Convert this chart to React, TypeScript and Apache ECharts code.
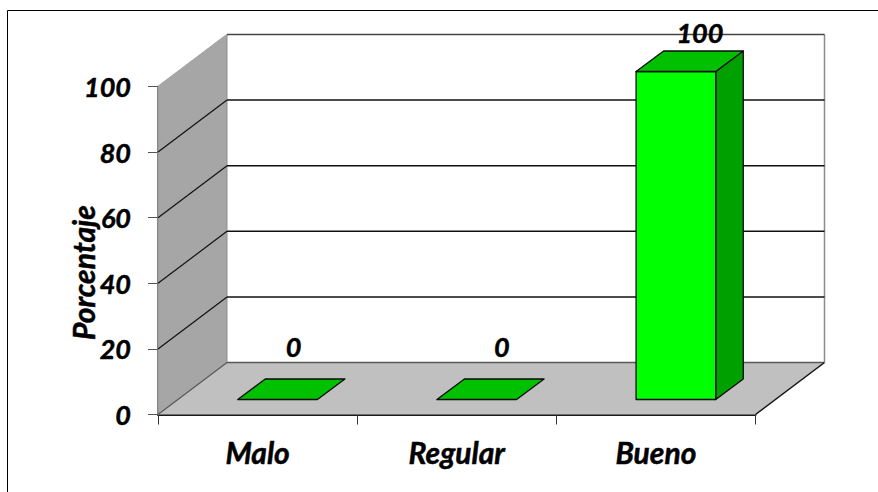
import React, { useEffect, useRef } from "react";
import * as echarts from "echarts";

const categories = ["Malo", "Regular", "Bueno"];
const values = [0, 0, 100];
const yTicks = [0, 20, 40, 60, 80, 100];

const FONT = "Lato";
const DX = 69; // 3D depth of the chart box
const DY = -52;
const BAR_SHIFT_X = 20; // bar's front face sits a little inside the floor
const BAR_SHIFT_Y = -15;
const BAR_DX = 27.5;
const BAR_DY = -20.5;
const LABEL_NUDGE = [
  [36, -53],
  [45, -53],
  [44, -39],
];

function frameItem(params: any, api: any) {
  const x0 = params.coordSys.x;
  const x1 = x0 + params.coordSys.width;
  const [, y0] = api.coord([0, 0]);
  const [, y100] = api.coord([0, 100]);
  const top = y100 + DY;
  const floorBack = y0 + DY;
  const children: any[] = [
    { type: "polygon", shape: { points: [[x0 + DX, top], [x1 + DX, top], [x1 + DX, floorBack], [x0 + DX, floorBack]] }, style: { fill: "#ffffff" } },
    { type: "polygon", shape: { points: [[x0, y0], [x0, y100], [x0 + DX, top], [x0 + DX, floorBack]] }, style: { fill: "#a6a6a6", stroke: "#8f8f8f", lineWidth: 1 } },
    { type: "polygon", shape: { points: [[x0, y0], [x1, y0], [x1 + DX, floorBack], [x0 + DX, floorBack]] }, style: { fill: "#c0c0c0" } },
    { type: "line", shape: { x1: x0 + DX, y1: floorBack, x2: x1 + DX, y2: floorBack }, style: { stroke: "#595959", lineWidth: 1.5 } },
    { type: "line", shape: { x1: x0, y1: y0, x2: x0 + DX, y2: floorBack }, style: { stroke: "#595959", lineWidth: 1.2 } },
    { type: "line", shape: { x1: x1, y1: y0, x2: x1 + DX, y2: floorBack }, style: { stroke: "#111111", lineWidth: 1.5 } },
    { type: "line", shape: { x1: x1 + DX, y1: top, x2: x1 + DX, y2: floorBack }, style: { stroke: "#8c8c8c", lineWidth: 1.5 } },
  ];
  yTicks.forEach((t) => {
    if (t === 0) return;
    const [, y] = api.coord([0, t]);
    const isTop = t === 100;
    children.push({
      type: "line",
      shape: { x1: x0 + DX, y1: y + DY, x2: x1 + DX, y2: y + DY },
      style: { stroke: isTop ? "#444444" : "#111111", lineWidth: 1.5 },
    });
    children.push({
      type: "line",
      shape: { x1: x0, y1: y, x2: x0 + DX, y2: y + DY },
      style: { stroke: isTop ? "#a9a9a9" : "#111111", lineWidth: 1.2 },
    });
  });
  return { type: "group", children };
}

function barItem(params: any, api: any) {
  const idx = api.value(0);
  const val = api.value(1);
  const [cx, yBase] = api.coord([idx, 0]);
  const [, yTop] = api.coord([idx, val]);
  const barW = api.size([1, 0])[0] * 0.4;
  const l = cx - barW / 2 + BAR_SHIFT_X;
  const r = l + barW;
  const b = yBase + BAR_SHIFT_Y;
  const t = yTop + BAR_SHIFT_Y;
  const stroke = { stroke: "#0a0a0a", lineWidth: 1.3, lineJoin: "round" };
  const children: any[] = [];
  if (val > 0) {
    children.push({ type: "polygon", shape: { points: [[r, t], [r + BAR_DX, t + BAR_DY], [r + BAR_DX, b + BAR_DY], [r, b]] }, style: { fill: "#00a000", ...stroke } });
    children.push({ type: "rect", shape: { x: l, y: t, width: barW, height: b - t }, style: { fill: "#00ff00", ...stroke } });
  }
  children.push({ type: "polygon", shape: { points: [[l, t], [r, t], [r + BAR_DX, t + BAR_DY], [l + BAR_DX, t + BAR_DY]] }, style: { fill: "#00c000", ...stroke } });
  const [nx, ny] = LABEL_NUDGE[params.dataIndex];
  children.push({
    type: "text",
    x: cx + nx,
    y: t + ny,
    style: { text: String(val), fill: "#000", stroke: "#000", lineWidth: 0.5, font: `italic bold 27px ${FONT}`, textAlign: "center", textVerticalAlign: "middle" },
  });
  return { type: "group", children };
}

export default function App() {
  const ref = useRef<HTMLDivElement>(null);
  useEffect(() => {
    const chart = echarts.init(ref.current!, undefined, { renderer: "svg" });
    const textStyle = { fontFamily: FONT, fontStyle: "italic" as const, fontWeight: "bold" as const, color: "#000", textBorderColor: "#000", textBorderWidth: 0.5 };
    chart.setOption({
      animation: false,
      backgroundColor: "#ffffff",
      grid: { left: 158, top: 86.5, right: 122.5, bottom: 77.5, containLabel: false },
      xAxis: {
        type: "category",
        data: categories,
        boundaryGap: true,
        axisLine: { show: true, onZero: false, lineStyle: { color: "#1a1a1a", width: 2 } },
        axisTick: { show: true, length: 10, alignWithLabel: false, lineStyle: { color: "#333", width: 1 } },
        axisLabel: { ...textStyle, fontSize: 30, margin: 22, interval: 0 },
        splitLine: { show: false },
      },
      yAxis: {
        type: "value",
        min: 0,
        max: 100,
        interval: 20,
        name: "Porcentaje",
        nameLocation: "middle",
        nameGap: 60,
        nameRotate: 90,
        nameMoveOverlap: false,
        nameTextStyle: { ...textStyle, fontSize: 30, padding: [0, 44, 0, 0] },
        axisLine: { show: true, lineStyle: { color: "#555", width: 1.5 } },
        axisTick: { show: true, length: 10, lineStyle: { color: "#555", width: 1 } },
        axisLabel: { ...textStyle, fontSize: 27, margin: 27, formatter: (v: number) => String(v) },
        splitLine: { show: false },
      },
      graphic: [
        { type: "line", shape: { x1: 7.5, y1: 10.5, x2: 878, y2: 10.5 }, style: { stroke: "#000", lineWidth: 1 }, z: 10 },
        { type: "line", shape: { x1: 7.5, y1: 10.5, x2: 7.5, y2: 492 }, style: { stroke: "#000", lineWidth: 1 }, z: 10 },
      ],
      series: [
        { type: "custom", name: "frame", z: 1, silent: true, clip: false, data: [[0, 0]], encode: { x: 0, y: 1 }, renderItem: frameItem },
        { type: "custom", name: "Porcentaje", z: 3, clip: false, data: values.map((v, i) => [i, v]), encode: { x: 0, y: 1 }, renderItem: barItem },
      ],
    });
    return () => chart.dispose();
  }, []);
  return <div ref={ref} style={{ position: "fixed", left: 0, top: 0, width: 878, height: 492 }} />;
}
